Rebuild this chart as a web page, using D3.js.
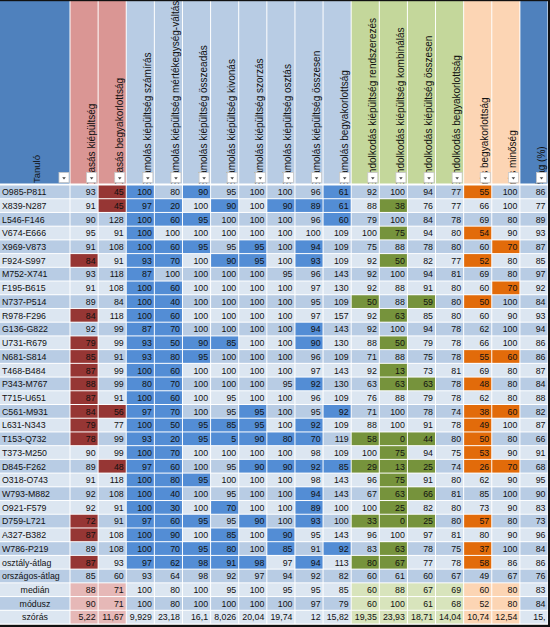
<!DOCTYPE html>
<html><head><meta charset="utf-8">
<script src="https://cdn.jsdelivr.net/npm/d3@7"></script>
<style>body{margin:0;background:#fff}svg{display:block}</style>
</head><body><svg id="c" width="550" height="627"></svg>
<script>
const firstHeader = "Tanuló";
const columns = [
  "Olvasás kiépültség","Olvasás begyakorlottság",
  "Számolás kiépültség számírás","Számolás kiépültség mértékegység-váltás",
  "Számolás kiépültség összeadás","Számolás kiépültség kivonás",
  "Számolás kiépültség szorzás","Számolás kiépültség osztás",
  "Számolás kiépültség összesen","Számolás begyakorlottság",
  "Gondolkodás kiépültség rendszerezés","Gondolkodás kiépültség kombinálás",
  "Gondolkodás kiépültség összesen","Gondolkodás begyakorlottság",
  "Írás begyakorlottság","Írás minőség","Átlag (%)"
];
const groups = ["olv","olv","szam","szam","szam","szam","szam","szam","szam","szam",
  "gond","gond","gond","gond","iras","iras","atl"];
const rowLabels = ["O985-P811","X839-N287","L546-F146","V674-E666","X969-V873","F924-S997",
  "M752-X741","F195-B615","N737-P514","R978-F296","G136-G822","U731-R679","N681-S814",
  "T468-B484","P343-M767","T715-U651","C561-M931","L631-N343","T153-Q732","T373-M250",
  "D845-F262","O318-O743","W793-M882","O921-F579","D759-L721","A327-B382","W786-P219",
  "osztály-átlag","országos-átlag","medián","módusz","szórás"];
const centeredRows = ["medián","módusz","szórás"];
const values = [
  [93,45,100,80,90,95,100,100,96,61,92,100,94,77,55,100,86],
  [91,45,97,20,100,90,100,90,89,61,88,38,76,77,66,100,77],
  [90,128,100,60,95,100,100,100,96,60,79,100,84,78,69,80,89],
  [95,91,100,100,100,100,100,100,100,109,100,75,94,80,54,90,93],
  [91,108,100,60,95,95,95,100,94,109,75,88,78,80,60,70,87],
  [84,91,93,70,100,90,95,100,93,109,92,50,82,77,52,80,85],
  [93,118,87,100,100,100,100,95,96,143,92,100,94,81,69,80,97],
  [91,108,100,60,100,100,100,100,97,130,92,88,91,80,60,70,92],
  [89,84,100,40,100,100,100,100,95,109,50,88,59,80,50,100,84],
  [84,118,100,60,100,100,100,100,97,157,92,63,85,80,60,90,93],
  [92,99,87,70,100,100,100,100,94,143,92,100,94,78,62,100,94],
  [79,99,93,50,90,85,100,100,90,130,88,50,79,78,66,100,86],
  [85,91,93,80,95,100,100,100,96,109,71,88,75,78,55,60,86],
  [87,99,100,60,100,100,100,100,97,143,92,13,73,81,69,80,87],
  [88,99,80,70,100,100,100,95,92,130,63,63,63,78,48,80,84],
  [87,91,100,60,100,95,100,100,96,109,76,88,79,78,62,80,88],
  [84,56,97,70,100,95,95,100,95,92,71,100,78,74,38,60,82],
  [79,77,100,50,95,85,95,100,92,109,88,100,91,78,49,100,87],
  [78,99,93,20,95,5,90,80,70,119,58,0,44,80,50,80,66],
  [90,99,100,70,100,100,100,100,98,109,100,75,94,75,53,90,91],
  [89,48,97,60,100,95,90,90,92,85,29,13,25,74,26,70,68],
  [91,118,100,80,95,100,100,100,98,143,96,75,91,80,62,90,95],
  [92,108,100,40,100,95,100,100,94,143,67,63,66,81,85,100,90],
  [92,91,100,30,100,70,100,100,89,100,100,25,82,80,73,90,83],
  [72,91,97,60,95,95,90,100,93,100,33,0,25,80,57,80,73],
  [87,108,100,90,100,85,100,90,95,143,96,100,97,81,80,90,96],
  [89,108,100,70,95,80,100,85,91,92,83,63,78,75,37,100,84],
  [87,93,97,62,98,91,98,97,94,113,80,67,77,78,58,86,86],
  [85,60,93,64,98,92,97,94,92,82,60,61,60,67,49,67,76],
  [88,71,100,80,100,95,100,95,95,85,60,88,67,69,60,80,83],
  [90,71,100,80,100,100,100,100,97,79,60,100,61,68,52,80,84],
  ["5,22","11,67","9,929","23,18","16,1","8,026","20,04","19,74","12","15,82","19,35","23,93","18,71","14,04","10,74","12,54","15,"]
];
// columns (1-based) marked by conditional formatting, per row
const flagged = [
  [2,3,5,10,15],[2,3,4,6,8,9,10,12],[3,4,5,10],[3,12,15],[3,4,5,7,9,16],
  [1,3,4,6,7,9,12,15],[3],[3,4,16],[3,4,11,13,15],[1,3,4,12],[3,4,9],
  [1,3,4,5,6,9,12],[1,3,4,5,15,16],[1,3,4,12],[1,3,4,9,12,13,15],[1,3,4],
  [1,2,3,4,7,10,15,16],[1,3,4,5,6,7,9,15],[1,3,4,5,6,7,8,9,11,12,13,15],
  [3,4,12,15],[2,3,4,7,8,9,10,11,12,13,15,16],[3,4,5,12],[3,4,9,12,13],
  [3,4,6,9,12],[1,3,4,5,7,9,11,12,13,15],[1,3,4,6,8],[3,4,5,6,8,10,12,15],
  [1,3,4,5,6,7,9,11,12,15],[],[],[],[]
];

const headerFill = {olv:"#DA9694", szam:"#B8CCE4", gond:"#C4D79B", iras:"#FCD5B4", atl:"#4F81BD"};
const flagFill = {olv:"#963634", szam:"#538DD5", gond:"#76933C", iras:"#E26B0A", atl:"#538DD5"};
const lightFill = {olv:"#E6B8B7", gond:"#D8E4BC", iras:"#FCD5B4"};
const band = i => i % 2 === 0 ? "#B8CCE4" : "#DCE6F1";

const svg = d3.select("#c");
const x = d3.scaleBand().domain(d3.range(columns.length)).range([70, 548]);
const y = d3.scaleBand().domain(d3.range(rowLabels.length)).range([185.5, 624.5]);
const bw = x.bandwidth(), bh = y.bandwidth();
const labelFont = "'Liberation Sans', Arial, sans-serif";
const numFont = "'Liberation Sans Narrow', 'Arial Narrow', sans-serif";

// header
const hTop = 1, hBot = 183.5;
svg.append("rect").attr("x",0).attr("y",hTop).attr("width",69.5).attr("height",hBot-hTop).attr("fill","#4F81BD");
svg.append("text").attr("transform",`translate(40,183) rotate(-90)`)
  .attr("font-family",labelFont).attr("font-size",9.5).attr("fill","#111").text(firstHeader);

const defs = svg.append("defs");
columns.forEach((c,i)=>{
  defs.append("clipPath").attr("id","hc"+i).append("rect")
    .attr("x",x(i)).attr("y",hTop).attr("width",bw).attr("height",hBot-hTop);
});
const hg = svg.append("g");
hg.selectAll("rect").data(columns).join("rect")
  .attr("x",(d,i)=>x(i)+0.5).attr("y",hTop).attr("width",bw-1).attr("height",hBot-hTop)
  .attr("fill",(d,i)=>headerFill[groups[i]]);
hg.selectAll("g.ht").data(columns).join("g").attr("class","ht")
  .attr("clip-path",(d,i)=>`url(#hc${i})`)
  .append("text")
  .attr("transform",(d,i)=>`translate(${x(i)+bw-3.5},187.5) rotate(-90)`)
  .attr("font-family",labelFont).attr("font-size",10).attr("fill","#111").text(d=>d);

// filter buttons
const btnX = [59].concat(columns.map((c,i)=>x(i)+bw-11.5));
const bg = svg.append("g");
bg.selectAll("rect").data(btnX).join("rect")
  .attr("x",d=>d).attr("y",172.5).attr("width",10).attr("height",10)
  .attr("fill","#fff").attr("stroke","#c8c8c8").attr("stroke-width",0.8);
bg.selectAll("path").data(btnX).join("path")
  .attr("d",d=>`M${d+3.2},${177.2}L${d+6.8},${177.2}L${d+5},${179.4}Z`).attr("fill","#444");

// body
const rows = svg.append("g").selectAll("g").data(rowLabels).join("g")
  .attr("transform",(d,r)=>`translate(0,${y(r)})`);
rows.append("rect").attr("x",0).attr("y",0).attr("width",69.5).attr("height",bh-1)
  .attr("fill",(d,r)=>band(r));
rows.append("text")
  .attr("x",d=>centeredRows.includes(d)?35:2)
  .attr("text-anchor",d=>centeredRows.includes(d)?"middle":"start")
  .attr("y",bh/2+2.8).attr("font-family",labelFont).attr("font-size",8.8)
  .attr("fill","#111").text(d=>d);

rows.each(function(label,r){
  const g = d3.select(this);
  const cells = g.selectAll("g.cell").data(values[r]).join("g").attr("class","cell")
    .attr("transform",(d,i)=>`translate(${x(i)},0)`);
  cells.append("rect").attr("x",0.5).attr("y",0).attr("width",bw-1).attr("height",bh-1)
    .attr("fill",(d,i)=>{
      const gname = groups[i];
      if (flagged[r].includes(i+1)) return flagFill[gname];
      if (centeredRows.includes(label) && lightFill[gname]) return lightFill[gname];
      return band(r);
    });
  cells.append("text").attr("x",bw-2.5).attr("y",bh/2+2.8).attr("text-anchor","end")
    .attr("font-family",numFont).attr("font-size",8.8).attr("fill","#111")
    .text(d=>String(d));
});

// frame lines
svg.append("rect").attr("x",0).attr("y",0).attr("width",550).attr("height",1.2).attr("fill","#111");
svg.append("rect").attr("x",548).attr("y",0).attr("width",2).attr("height",627).attr("fill","#111");
svg.append("rect").attr("x",0).attr("y",624.8).attr("width",550).attr("height",2.2).attr("fill","#111");
</script></body></html>
